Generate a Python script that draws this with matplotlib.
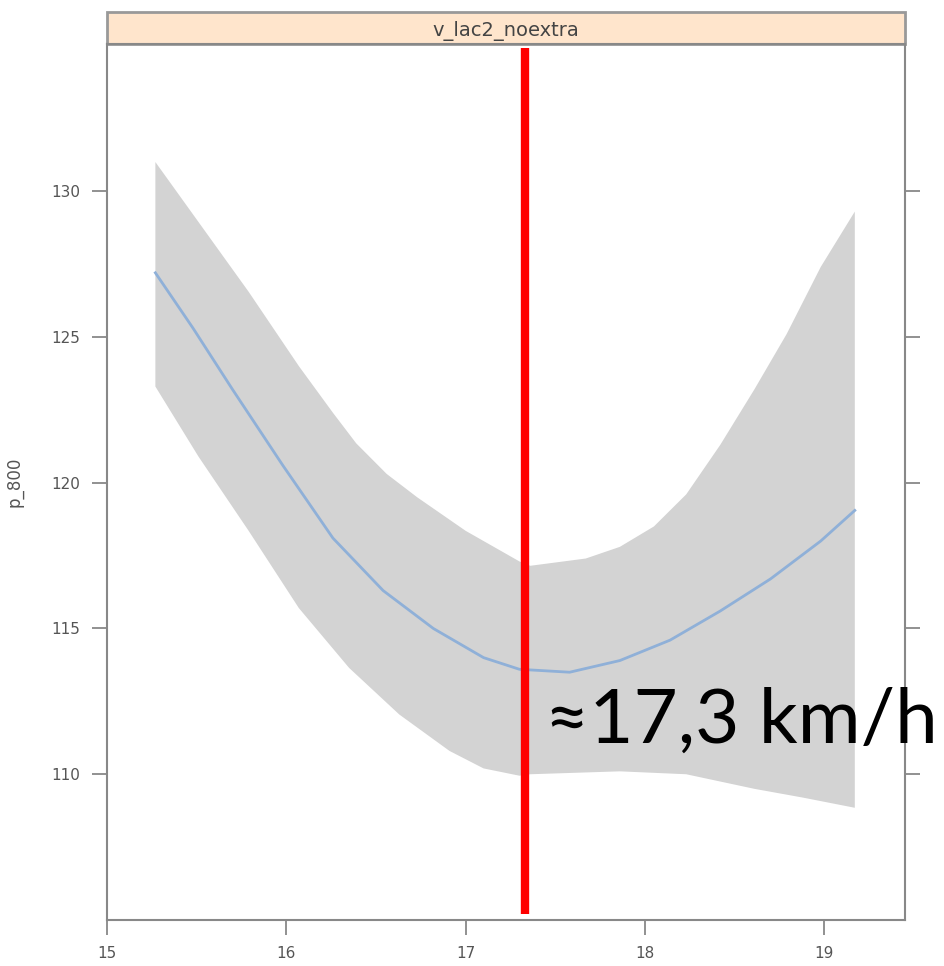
import numpy as np
import matplotlib
matplotlib.use("Agg")
import matplotlib.pyplot as plt
from matplotlib.patches import Rectangle

# fitted effect of speed on p_800
fit_x = [15.27, 15.48, 15.70, 15.98, 16.26, 16.54, 16.82, 17.10,
         17.30, 17.58, 17.86, 18.14, 18.42, 18.70, 18.98, 19.17]
fit_y = [127.2, 125.3, 123.2, 120.6, 118.1, 116.3, 115.0, 114.0,
         113.6, 113.5, 113.9, 114.6, 115.6, 116.7, 118.0, 119.05]

# confidence band, upper edge
upper_x = [15.27, 15.79, 16.07, 16.26, 16.39, 16.56, 16.73, 17.00, 17.30,
           17.36, 17.67, 17.86, 18.05, 18.23, 18.42, 18.61, 18.79, 18.98, 19.17]
upper_y = [131.0, 126.55, 124.0, 122.4, 121.35, 120.3, 119.5, 118.35, 117.3,
           117.15, 117.4, 117.8, 118.5, 119.6, 121.3, 123.2, 125.1, 127.4, 129.3]
# confidence band, lower edge
lower_x = [15.27, 15.51, 15.79, 16.07, 16.35, 16.63, 16.91, 17.10, 17.30, 17.36,
           17.86, 18.23, 18.61, 18.88, 19.17]
lower_y = [123.3, 120.9, 118.35, 115.7, 113.65, 112.05, 110.8, 110.2, 109.95, 110.0,
           110.1, 110.0, 109.5, 109.2, 108.85]

optimo = 17.33
etiqueta = "\u224817,3 km/h"
panel = "v_lac2_noextra"
x_ticks = [15, 16, 17, 18, 19]
y_ticks = [110, 115, 120, 125, 130]

fig = plt.figure(figsize=(9.44, 9.66), dpi=100)
ax = fig.add_axes([0.1133, 0.0476, 0.8454, 0.9069])

# band polygon: upper edge left->right, lower edge right->left
band_x = np.concatenate([upper_x, lower_x[::-1]])
band_y = np.concatenate([upper_y, lower_y[::-1]])
ax.fill(band_x, band_y, color="#d3d3d3", linewidth=0)
ax.plot(fit_x, fit_y, color="#8fb0d8", linewidth=2)

ax.plot([optimo, optimo], [105.2, 134.9], color="#ff0000", linewidth=6,
        solid_capstyle="butt")
ax.text(optimo + 0.11, 111.07, etiqueta, fontsize=55, family=["Lato", "DejaVu Sans"],
        color="black", va="baseline", ha="left", clip_on=False)

ax.set_xlim(15, 19.45)
ax.set_ylim(105, 135.05)
ax.set_xticks(x_ticks)
ax.set_yticks(y_ticks)
ax.tick_params(axis="both", direction="out", length=11, width=1.3, color="#888888",
               labelcolor="#555555", labelsize=11)
ax.tick_params(axis="x", pad=8)
ax.tick_params(axis="y", right=True, labelright=False, pad=8)
for s in ax.spines.values():
    s.set_color("#888888")
    s.set_linewidth(1.5)
ax.set_ylabel("p_800", color="#555555", fontsize=12, labelpad=20)

# strip header (lattice style)
strip = Rectangle((0, 1.0), 1.0, 32 / 877, transform=ax.transAxes, clip_on=False,
                  facecolor="#ffe5cc", edgecolor="#999999", linewidth=2)
ax.add_patch(strip)
ax.text(0.5, 1.0 + 13 / 877, panel, transform=ax.transAxes, ha="center", va="center",
        fontsize=14, color="#444444")

fig.savefig("out.png", dpi=100)
